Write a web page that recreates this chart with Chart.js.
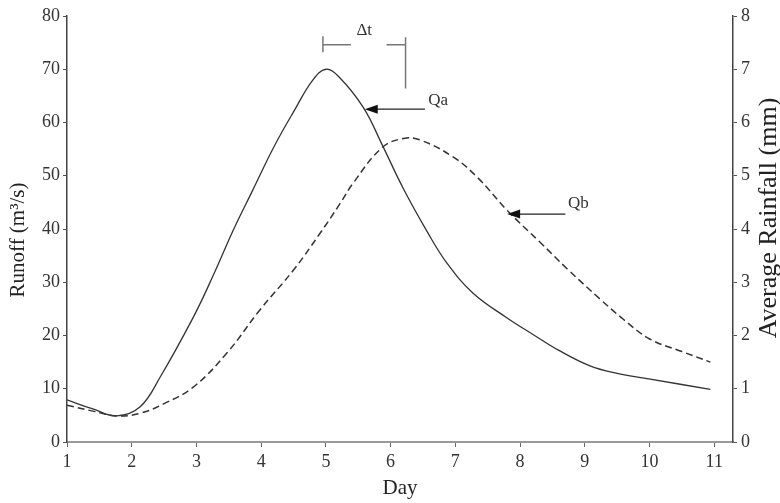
<!DOCTYPE html>
<html lang="en">
<head>
    <meta charset="UTF-8">
    <script src="https://cdn.jsdelivr.net/npm/chart.js"></script>
    <title>Runoff hydrograph</title>
    <style>
        html, body { margin: 0; padding: 0; background: #fff; }
        #wrap { width: 780px; height: 503px; }
    </style>
</head>
<body>
<div id="wrap"><canvas id="runoffChart" width="780" height="503"></canvas></div>

<script>
    // Qa (solid) - day / runoff
    const qaDays   = [1.0, 1.4, 1.77, 2.13, 2.44, 2.95, 3.26, 3.57, 3.87, 4.2, 4.5, 4.8, 5.0, 5.2, 5.58, 5.87, 6.2, 6.56, 6.87, 7.27, 7.8, 8.2, 8.6, 9.08, 9.5, 10.01, 10.94];
    const qaValues = [7.9, 6.2, 4.9, 6.6, 12.2, 23.4, 31.3, 39.8, 47.3, 55.5, 62, 68, 70, 68.6, 62.8, 55.8, 47.5, 39.6, 33.6, 28, 23.3, 20.2, 17.2, 14.3, 12.9, 11.8, 9.9];

    // Qb (dashed)
    const qbDays   = [1.0, 1.4, 1.77, 2.13, 2.5, 2.95, 3.47, 3.98, 4.5, 4.91, 5.22, 5.42, 5.87, 6.2, 6.46, 6.97, 7.34, 7.8, 8.31, 8.73, 9.24, 9.6, 10.01, 10.5, 10.94];
    const qbValues = [6.9, 5.8, 4.9, 5.4, 7.2, 10.3, 16.7, 24.8, 32.3, 39.2, 44.8, 48.6, 55.3, 57.0, 56.7, 53.5, 49.7, 43.5, 37.5, 32.5, 26.8, 23, 19.3, 17, 15];

    const dayTicks = [1, 2, 3, 4, 5, 6, 7, 8, 9, 10, 11];
    const runoffTicks = [0, 10, 20, 30, 40, 50, 60, 70, 80];
    const rainTicks = [0, 1, 2, 3, 4, 5, 6, 7, 8];

    const serif = '"Liberation Serif", "DejaVu Serif", serif';

    function toPoints(xs, ys) {
        return xs.map((x, i) => ({ x: x, y: ys[i] }));
    }

    function peakDay(xs, ys) {
        let k = 0;
        ys.forEach((v, i) => { if (v > ys[k]) k = i; });
        return xs[k];
    }

    function arrow(ctx, x1, y1, x2, y2) {
        // line from tail (x1,y1) to tip (x2,y2), filled head
        ctx.beginPath();
        ctx.moveTo(x1, y1);
        ctx.lineTo(x2 + 10, y2);
        ctx.stroke();
        ctx.beginPath();
        ctx.moveTo(x2, y2);
        ctx.lineTo(x2 + 13, y2 - 4.5);
        ctx.lineTo(x2 + 13, y2 + 4.5);
        ctx.closePath();
        ctx.fill();
    }

    function vText(ctx, text, x, y, size) {
        ctx.save();
        ctx.font = size + 'px ' + serif;
        ctx.textAlign = 'center';
        ctx.textBaseline = 'middle';
        ctx.translate(x, y);
        ctx.rotate(-Math.PI / 2);
        ctx.fillText(text, 0, 0);
        ctx.restore();
    }

    // bracket, arrows, labels and the two y titles
    const notes = {
        id: 'notes',
        afterDraw(chart) {
            const ctx = chart.ctx;
            const xs = chart.scales.x, ys = chart.scales.y;
            const px = v => xs.getPixelForValue(v);
            const py = v => ys.getPixelForValue(v);
            ctx.save();

            // delta t bracket between the two peaks
            const xa = px(peakDay(qaDays, qaValues)) - 3;
            const xb = px(peakDay(qbDays, qbValues)) + 2;
            const yb = py(74.6);
            ctx.strokeStyle = '#777';
            ctx.lineWidth = 1.5;
            ctx.beginPath();
            ctx.moveTo(xa, py(76.2)); ctx.lineTo(xa, py(73.2));
            ctx.moveTo(xa, yb); ctx.lineTo(xa + 28, yb);
            ctx.moveTo(xb - 19, yb); ctx.lineTo(xb, yb);
            ctx.moveTo(xb, py(76.0)); ctx.lineTo(xb, py(66.4));
            ctx.stroke();
            ctx.fillStyle = '#333';
            ctx.font = '17px ' + serif;
            ctx.textAlign = 'center';
            ctx.textBaseline = 'middle';
            ctx.fillText('\u0394t', (xa + xb) / 2, py(77.2));

            // Qa / Qb arrows
            ctx.strokeStyle = '#222';
            ctx.fillStyle = '#111';
            ctx.lineWidth = 1.3;
            arrow(ctx, px(6.53), py(62.5), px(5.6), py(62.5));
            arrow(ctx, px(8.7), py(42.8), px(7.8), py(42.8));
            ctx.fillStyle = '#333';
            ctx.textAlign = 'left';
            ctx.fillText('Qa', px(6.58), py(64.2));
            ctx.fillText('Qb', px(8.74), py(44.8));

            ctx.fillStyle = '#222';
            vText(ctx, 'Runoff (m\u00b3/s)', 18, 240, 21);
            vText(ctx, 'Average Rainfall (mm)', 769, 218, 26);
            ctx.restore();
        }
    };

    new Chart(document.getElementById('runoffChart'), {
        type: 'line',
        data: {
            datasets: [{
                label: 'Qa',
                data: toPoints(qaDays, qaValues),
                borderColor: '#333',
                borderWidth: 1.3,
                pointRadius: 0,
                tension: 0.4,
                yAxisID: 'y'
            }, {
                label: 'Qb',
                data: toPoints(qbDays, qbValues),
                borderColor: '#333',
                borderWidth: 1.5,
                borderDash: [7, 4],
                pointRadius: 0,
                tension: 0.4,
                yAxisID: 'y'
            }]
        },
        options: {
            responsive: false,
            animation: false,
            layout: { padding: { top: 16, left: 0, right: 0, bottom: 0 } },
            plugins: { legend: { display: false }, tooltip: { enabled: false } },
            scales: {
                x: {
                    type: 'linear',
                    min: 1,
                    max: 11.29,
                    afterBuildTicks: s => { s.ticks = dayTicks.map(v => ({ value: v })); },
                    afterFit: s => { s.height = 61; },
                    grid: { drawOnChartArea: false, drawTicks: true, tickLength: 5, color: '#666' },
                    border: { color: '#999', width: 2 },
                    ticks: { color: '#333', font: { family: serif, size: 18 }, padding: 4, maxRotation: 0 },
                    title: { display: true, text: 'Day', color: '#222', font: { family: serif, size: 21 }, padding: { top: 0, bottom: 2 } }
                },
                y: {
                    position: 'left',
                    min: 0,
                    max: 80,
                    afterBuildTicks: s => { s.ticks = runoffTicks.map(v => ({ value: v })); },
                    afterFit: s => { s.width = 67; },
                    grid: { drawOnChartArea: false, drawTicks: true, tickLength: 4, color: '#555' },
                    border: { color: '#444', width: 1.5 },
                    ticks: { color: '#333', font: { family: serif, size: 18 }, padding: 3 }
                },
                y2: {
                    position: 'right',
                    min: 0,
                    max: 8,
                    afterBuildTicks: s => { s.ticks = rainTicks.map(v => ({ value: v })); },
                    afterFit: s => { s.width = 47; },
                    grid: { drawOnChartArea: false, drawTicks: true, tickLength: 4, color: '#555' },
                    border: { color: '#444', width: 1.5 },
                    ticks: { color: '#333', font: { family: serif, size: 18 }, padding: 4 }
                }
            }
        },
        plugins: [notes]
    });
</script>
</body>
</html>
